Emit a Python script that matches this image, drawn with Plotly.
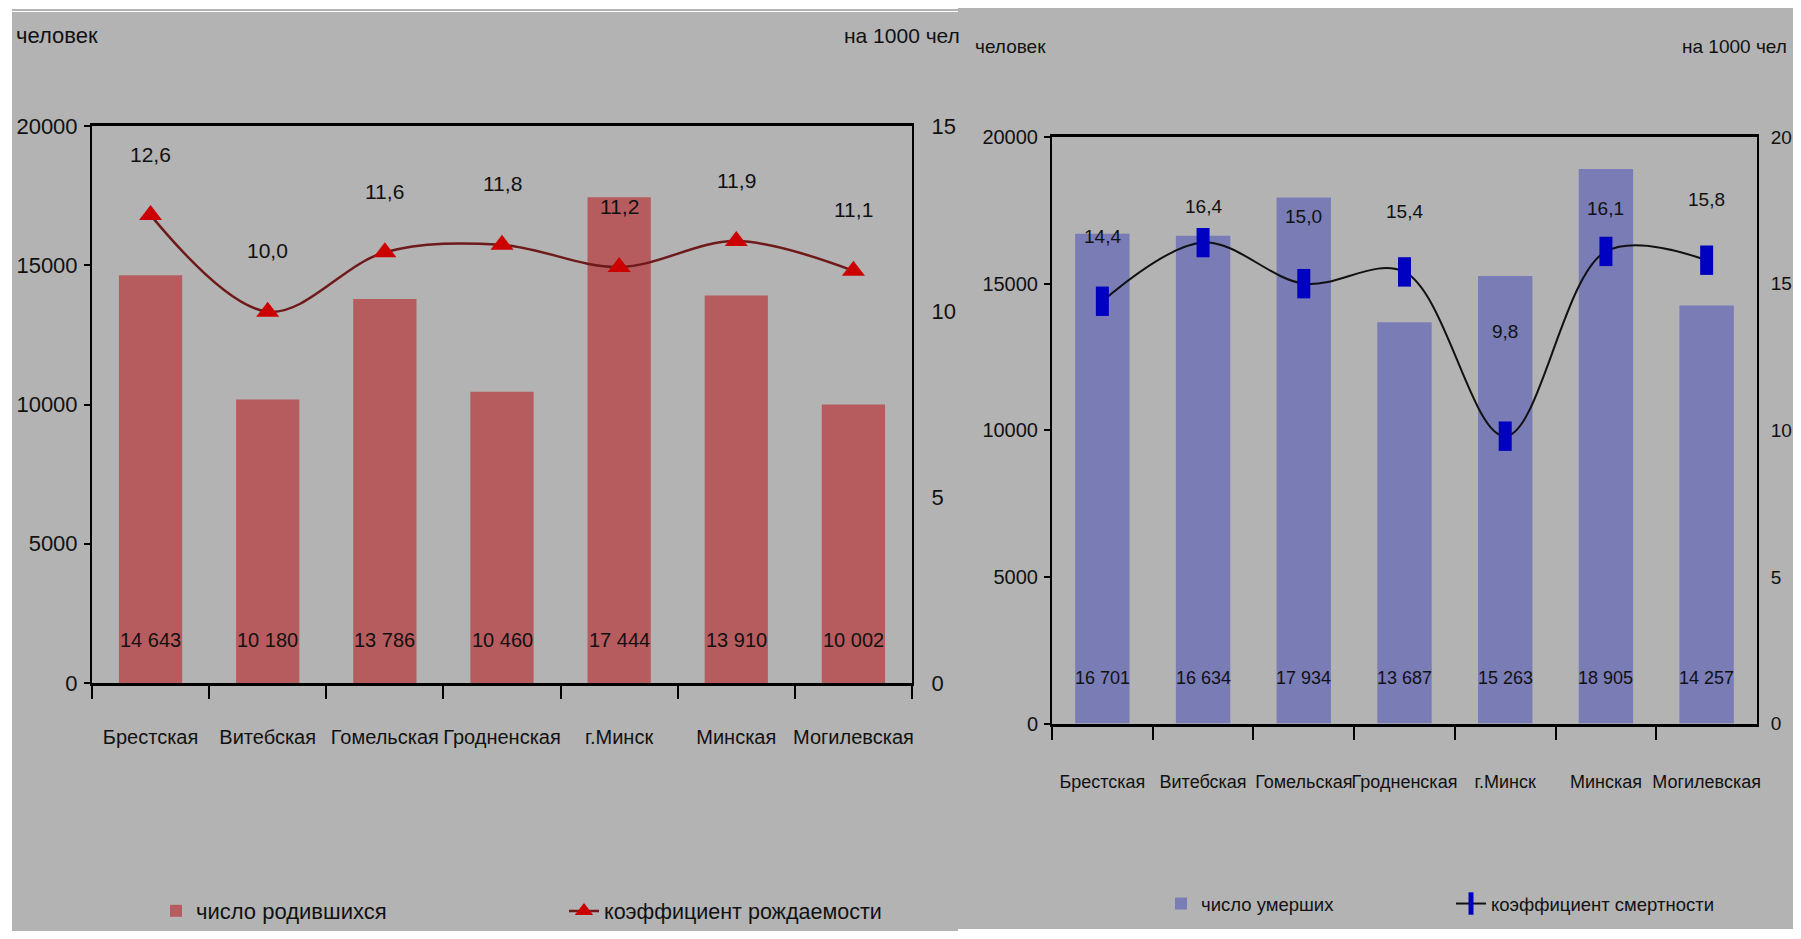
import plotly.graph_objects as go

# ---------------- data ----------------
regions = ["Брестская", "Витебская", "Гомельская", "Гродненская", "г.Минск", "Минская", "Могилевская"]
births = [14643, 10180, 13786, 10460, 17444, 13910, 10002]
birth_rate = [12.6, 10.0, 11.6, 11.8, 11.2, 11.9, 11.1]
deaths = [16701, 16634, 17934, 13687, 15263, 18905, 14257]
death_rate = [14.4, 16.4, 15.0, 15.4, 9.8, 16.1, 15.8]

left_counts_ticks = [0, 5000, 10000, 15000, 20000]
left_rate_ticks = [0, 5, 10, 15]
right_rate_ticks = [0, 5, 10, 15, 20]

# label offsets (style, px above the marker)
birth_label_shift = [61, 61, 61, 61, 61, 61, 61]
death_label_shift = [65, 36, 67, 60, 105, 43, 61]

# the page body keeps an 8px margin, so the figure is 16px smaller than the window
OFF = 8
W, H = 1801 - 2 * OFF, 939 - 2 * OFF
FONT = "Liberation Sans, Arial, sans-serif"
PANEL = "#B3B3B3"
BAR_RED = "#B75C5E"
BAR_BLUE = "#7A7CB6"


def px(x):
    return (x - OFF) / W


def py(y):
    return 1 - (y - OFF) / H


def fmt_int(v):
    return f"{v:,}".replace(",", " ")


def fmt_rate(v):
    return f"{v:.1f}".replace(".", ",")


fig = go.Figure()

# left chart
fig.add_trace(go.Bar(x=regions, y=births, name="число родившихся",
                     marker=dict(color=BAR_RED, line=dict(width=0)),
                     xaxis="x", yaxis="y", legend="legend"))
fig.add_trace(go.Scatter(x=regions, y=birth_rate, name="коэффициент рождаемости",
                         mode="lines+markers",
                         line=dict(color="#6E1A1A", width=2.5, shape="spline", smoothing=1),
                         marker=dict(symbol="triangle-up", size=20, color="#CC0000"),
                         xaxis="x", yaxis="y2", legend="legend2"))
# right chart
fig.add_trace(go.Bar(x=regions, y=deaths, name="число умерших",
                     marker=dict(color=BAR_BLUE, line=dict(width=0)),
                     xaxis="x2", yaxis="y3", legend="legend3"))
fig.add_trace(go.Scatter(x=regions, y=death_rate, name="коэффициент смертности",
                         mode="lines+markers",
                         line=dict(color="#111111", width=2, shape="spline", smoothing=1),
                         marker=dict(symbol="line-ns", size=21, color="#0000C0",
                                     line=dict(width=13, color="#0000C0")),
                         xaxis="x2", yaxis="y4", legend="legend4"))

annotations = []
for r, v in zip(regions, births):
    annotations.append(dict(x=r, y=0, xref="x", yref="y", text=fmt_int(v), showarrow=False,
                            yshift=43, yanchor="middle", font=dict(size=20, color="#111")))
for r, v, s in zip(regions, birth_rate, birth_label_shift):
    annotations.append(dict(x=r, y=v, xref="x", yref="y2", text=fmt_rate(v), showarrow=False,
                            yshift=s, yanchor="middle", font=dict(size=21, color="#111")))
for r, v in zip(regions, deaths):
    annotations.append(dict(x=r, y=0, xref="x2", yref="y3", text=fmt_int(v), showarrow=False,
                            yshift=46, yanchor="middle", font=dict(size=18, color="#111")))
for r, v, s in zip(regions, death_rate, death_label_shift):
    annotations.append(dict(x=r, y=v, xref="x2", yref="y4", text=fmt_rate(v), showarrow=False,
                            yshift=s, yanchor="middle", font=dict(size=19, color="#111")))

# axis titles at panel corners
annotations += [
    dict(x=px(14), y=py(36), xref="paper", yref="paper", text="человек", showarrow=False,
         xanchor="left", yanchor="middle", font=dict(size=22, color="#111")),
    dict(x=px(842), y=py(36), xref="paper", yref="paper", text="на 1000 чел", showarrow=False,
         xanchor="left", yanchor="middle", font=dict(size=21, color="#111")),
    dict(x=px(973), y=py(47), xref="paper", yref="paper", text="человек", showarrow=False,
         xanchor="left", yanchor="middle", font=dict(size=19, color="#111")),
    dict(x=px(1789), y=py(46), xref="paper", yref="paper", text="на 1000 чел", showarrow=False,
         xanchor="right", yanchor="middle", font=dict(size=19, color="#111")),
]

shapes = [
    # left panel
    dict(type="rect", xref="paper", yref="paper", layer="below",
         x0=px(12), x1=px(958), y0=0, y1=py(12), fillcolor=PANEL, line=dict(width=0)),
    dict(type="line", xref="paper", yref="paper", layer="below",
         x0=px(12), x1=px(958), y0=py(10), y1=py(10), line=dict(color="#9A9A9A", width=1.5)),
    # right panel
    dict(type="rect", xref="paper", yref="paper", layer="below",
         x0=px(958), x1=1, y0=py(929), y1=1, fillcolor=PANEL, line=dict(width=0)),
]

xcommon = dict(type="category", showline=True, linecolor="black", linewidth=3, mirror=True,
               ticks="outside", tickson="boundaries", ticklen=13, tickwidth=2, tickcolor="black",
               tickangle=0, showgrid=False, zeroline=False, fixedrange=True, automargin=False)
ycommon = dict(showline=True, linecolor="black", linewidth=2, showgrid=False, zeroline=False,
               tickformat="d", fixedrange=True, automargin=False)

fig.update_layout(
    width=W, height=H,
    margin=dict(l=0, r=0, t=0, b=0, pad=0, autoexpand=False),
    paper_bgcolor="white", plot_bgcolor="rgba(0,0,0,0)",
    font=dict(family=FONT, color="#111"),
    bargap=0.46,
    showlegend=True,
    xaxis=dict(domain=[px(92), px(912)], anchor="y", tickfont=dict(size=20),
               ticklabelstandoff=34, **xcommon),
    yaxis=dict(domain=[py(683), py(126)], anchor="x", range=[0, 20000], tickvals=left_counts_ticks,
               ticks="outside", ticklen=6, tickwidth=2, tickcolor="black", tickfont=dict(size=22),
               ticklabelstandoff=2, **ycommon),
    yaxis2=dict(overlaying="y", side="right", anchor="x", range=[0, 15], tickvals=left_rate_ticks,
                ticks="", tickfont=dict(size=22), ticklabelstandoff=13, **ycommon),
    xaxis2=dict(domain=[px(1052), px(1757)], anchor="y3", tickfont=dict(size=18),
                ticklabelstandoff=40, **xcommon),
    yaxis3=dict(domain=[py(723.6), py(137)], anchor="x2", range=[0, 20000], tickvals=left_counts_ticks,
                ticks="outside", ticklen=6, tickwidth=2, tickcolor="black", tickfont=dict(size=20),
                ticklabelstandoff=2, **ycommon),
    yaxis4=dict(overlaying="y3", side="right", anchor="x2", range=[0, 20], tickvals=right_rate_ticks,
                ticks="", tickfont=dict(size=19), ticklabelstandoff=8, **ycommon),
    legend=dict(x=px(198 - 42), y=py(911), xanchor="left", yanchor="middle", orientation="h",
                bgcolor="rgba(0,0,0,0)", font=dict(size=22)),
    legend2=dict(x=px(606 - 42), y=py(911), xanchor="left", yanchor="middle", orientation="h",
                 bgcolor="rgba(0,0,0,0)", font=dict(size=21.5)),
    legend3=dict(x=px(1203 - 42), y=py(904), xanchor="left", yanchor="middle", orientation="h",
                 bgcolor="rgba(0,0,0,0)", font=dict(size=18.5)),
    legend4=dict(x=px(1493 - 42), y=py(904), xanchor="left", yanchor="middle", orientation="h",
                 bgcolor="rgba(0,0,0,0)", font=dict(size=18.5)),
    annotations=annotations,
    shapes=shapes,
)

fig.write_html("out.html", config={"displayModeBar": False})
